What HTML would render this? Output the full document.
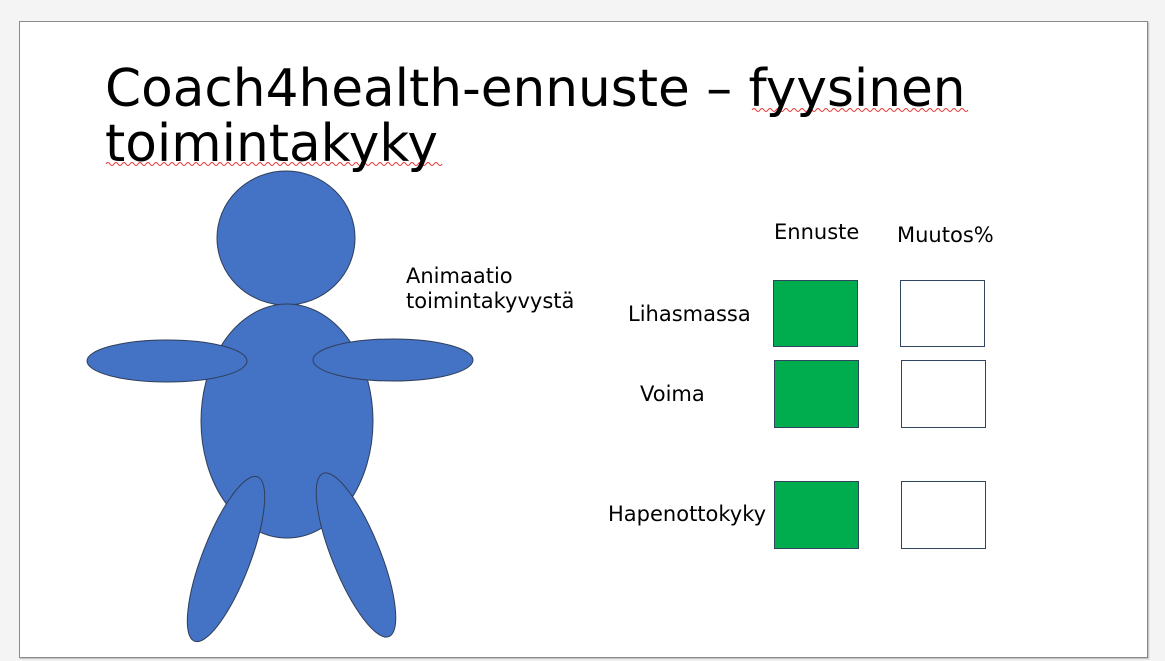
<!DOCTYPE html>
<html><head><meta charset="utf-8"><style>
body{margin:0;width:1165px;height:661px;background:#f4f4f4;overflow:hidden;font-family:"DejaVu Sans","Liberation Sans",sans-serif}
#slide{position:absolute;left:19px;top:21px;width:1127px;height:635px;background:#fff;border:1px solid #8a8a8a;box-shadow:1px 1px 1px #bbb}
.t{position:absolute;white-space:nowrap;color:#000}
.sq{position:absolute;box-sizing:border-box;border:1.5px solid #2f4560}
.g{background:#00ad4e}.w{background:#fff}
</style></head><body>
<div id="slide"></div>
<svg width="1165" height="661" style="position:absolute;left:0;top:0">
<g fill="#4472c4" stroke="#2f3f5a" stroke-width="1">
<ellipse cx="286" cy="238" rx="69" ry="67"/>
<ellipse cx="287" cy="421" rx="86" ry="117"/>
<ellipse cx="167" cy="361" rx="80" ry="21"/>
<ellipse cx="393" cy="360" rx="80" ry="21"/>
<ellipse cx="226" cy="559" rx="24" ry="88" transform="rotate(21 226 559)"/>
<ellipse cx="356" cy="555" rx="24" ry="88" transform="rotate(-22 356 555)"/>
</g>
<path d="M752 110 q2 -3 4 0 t4 0 t4 0 t4 0 t4 0 t4 0 t4 0 t4 0 t4 0 t4 0 t4 0 t4 0 t4 0 t4 0 t4 0 t4 0 t4 0 t4 0 t4 0 t4 0 t4 0 t4 0 t4 0 t4 0 t4 0 t4 0 t4 0 t4 0 t4 0 t4 0 t4 0 t4 0 t4 0 t4 0 t4 0 t4 0 t4 0 t4 0 t4 0 t4 0 t4 0 t4 0 t4 0 t4 0 t4 0 t4 0 t4 0 t4 0 t4 0 t4 0 t4 0 t4 0 t4 0 t4 0" fill="none" stroke="#e33" stroke-width="1"/>
<path d="M106 164 q2 -3 4 0 t4 0 t4 0 t4 0 t4 0 t4 0 t4 0 t4 0 t4 0 t4 0 t4 0 t4 0 t4 0 t4 0 t4 0 t4 0 t4 0 t4 0 t4 0 t4 0 t4 0 t4 0 t4 0 t4 0 t4 0 t4 0 t4 0 t4 0 t4 0 t4 0 t4 0 t4 0 t4 0 t4 0 t4 0 t4 0 t4 0 t4 0 t4 0 t4 0 t4 0 t4 0 t4 0 t4 0 t4 0 t4 0 t4 0 t4 0 t4 0 t4 0 t4 0 t4 0 t4 0 t4 0 t4 0 t4 0 t4 0 t4 0 t4 0 t4 0 t4 0 t4 0 t4 0 t4 0 t4 0 t4 0 t4 0 t4 0 t4 0 t4 0 t4 0 t4 0 t4 0 t4 0 t4 0 t4 0 t4 0 t4 0 t4 0 t4 0 t4 0 t4 0 t4 0 t4 0" fill="none" stroke="#e33" stroke-width="1"/>
</svg>
<div class="t" style="left:105px;top:62px;font-size:51.7px;line-height:55px">Coach4health-ennuste – fyysinen<br>toimintakyky</div>
<div class="t" style="left:406px;top:264px;font-size:21px;line-height:25px">Animaatio<br>toimintakyvystä</div>
<div class="t" style="left:774px;top:220px;font-size:21px">Ennuste</div>
<div class="t" style="left:897px;top:223px;font-size:21px">Muutos%</div>
<div class="t" style="left:628px;top:302px;font-size:21px">Lihasmassa</div>
<div class="t" style="left:640px;top:382px;font-size:21px">Voima</div>
<div class="t" style="left:608px;top:502px;font-size:21px">Hapenottokyky</div>
<div class="sq g" style="left:773px;top:280px;width:85px;height:67px"></div>
<div class="sq g" style="left:774px;top:360px;width:85px;height:68px"></div>
<div class="sq g" style="left:774px;top:481px;width:85px;height:68px"></div>
<div class="sq w" style="left:900px;top:280px;width:85px;height:67px"></div>
<div class="sq w" style="left:901px;top:360px;width:85px;height:68px"></div>
<div class="sq w" style="left:901px;top:481px;width:85px;height:68px"></div>
</body></html>
